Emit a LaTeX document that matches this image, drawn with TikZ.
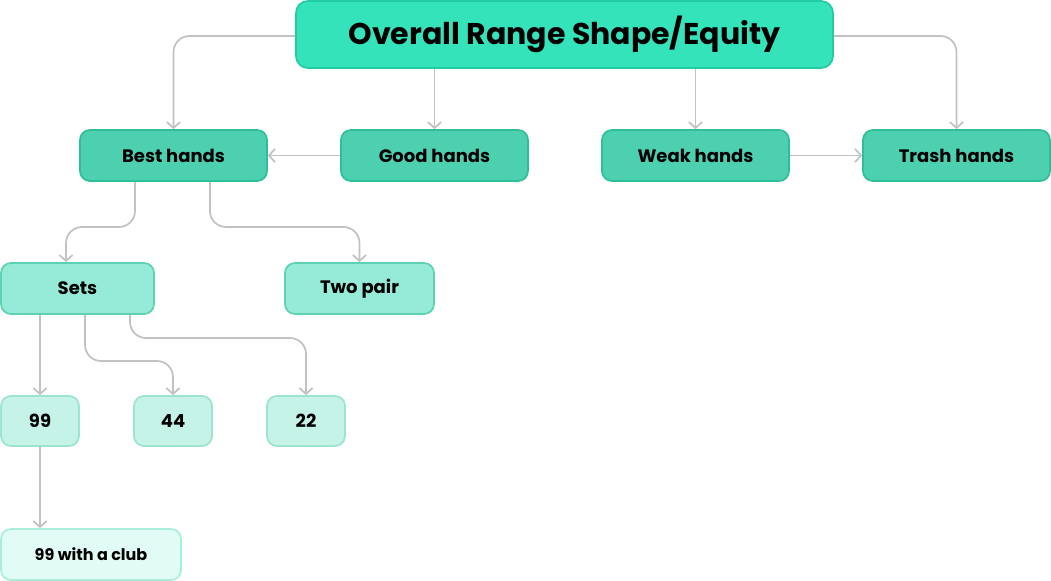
\documentclass[tikz,border=0pt]{standalone}
\usepackage{fontspec}
\setmainfont{Poppins}
\usetikzlibrary{arrows.meta}
\definecolor{topfill}{HTML}{35E3BB}
\definecolor{topline}{HTML}{22CCA2}
\definecolor{midfill}{HTML}{4DD0B0}
\definecolor{midline}{HTML}{2EBF98}
\definecolor{lowfill}{HTML}{95EBD7}
\definecolor{lowline}{HTML}{5ED1B3}
\definecolor{leaffill}{HTML}{C6F3E8}
\definecolor{leafline}{HTML}{9DE4D0}
\definecolor{tipfill}{HTML}{E0FCF4}
\definecolor{tipline}{HTML}{A8EEDB}
\definecolor{wire}{HTML}{C2C2C2}
\tikzset{
  box/.style={draw, line width=1.3pt, rounded corners=7.5pt, font=\bfseries, inner sep=0pt},
  top/.style={box, fill=topfill, draw=topline, rounded corners=9pt, minimum width=402.75pt, minimum height=50.25pt, font=\fontsize{22.5}{26}\selectfont\bfseries},
  mid/.style={box, fill=midfill, draw=midline, minimum width=140.25pt, minimum height=38.25pt, font=\fontsize{13.5}{16}\selectfont\bfseries},
  low/.style={box, fill=lowfill, draw=lowline, minimum height=38.25pt, font=\fontsize{13.5}{16}\selectfont\bfseries},
  leaf/.style={box, fill=leaffill, draw=leafline, minimum width=58.5pt, minimum height=37.5pt, font=\fontsize{13.5}{16}\selectfont\bfseries},
  tip/.style={box, fill=tipfill, draw=tipline, minimum width=135pt, minimum height=38.25pt, font=\fontsize{12}{14}\selectfont\bfseries},
  wire/.style={draw=wire, line width=1.3pt, rounded corners=12pt, -{Straight Barb[length=4.5pt,width=10pt]}}
}
\begin{document}
\begin{tikzpicture}[x=0.75pt, y=-0.75pt]
\useasboundingbox (0,0) rectangle (1051,581);
% boxes
\node[top] (range) at (564.5,34.5) {Overall Range Shape/Equity};
\node[mid] (best) at (173.5,155.5) {Best hands};
\node[mid] (good) at (434.5,155.5) {Good hands};
\node[mid] (weak) at (695.5,155.5) {Weak hands};
\node[mid] (trash) at (956.5,155.5) {Trash hands};
\node[low, minimum width=114.75pt] (sets) at (77.5,288.5) {Sets};
\node[low, minimum width=111.75pt] (twopair) at (359.5,288.5) {Two pair};
\node[leaf] (nines) at (40,421) {99};
\node[leaf] (fours) at (173,421) {44};
\node[leaf] (twos) at (306,421) {22};
\node[tip] (club) at (91,554.5) {99 with a club};
% connectors
\draw[wire] (range.west |- 0,36) -| (best.north);
\draw[wire] (range.east |- 0,36) -| (trash.north);
\draw[wire] (range.south -| good) -- (good.north);
\draw[wire] (range.south -| weak) -- (weak.north);
\draw[wire] (good) -- (best);
\draw[wire] (weak) -- (trash);
\draw[wire] (best.south -| 135,0) |- (100,227) -| (sets.north -| 66,0);
\draw[wire] (best.south -| 210,0) |- (280,227) -| (twopair.north);
\draw[wire] (sets.south -| nines) -- (nines.north);
\draw[wire] (sets.south -| 85,0) |- (130,361) -| (fours.north);
\draw[wire] (sets.south -| 130,0) |- (220,338) -| (twos.north);
\draw[wire] (nines.south) -- (nines.south |- club.north);
\end{tikzpicture}
\end{document}
